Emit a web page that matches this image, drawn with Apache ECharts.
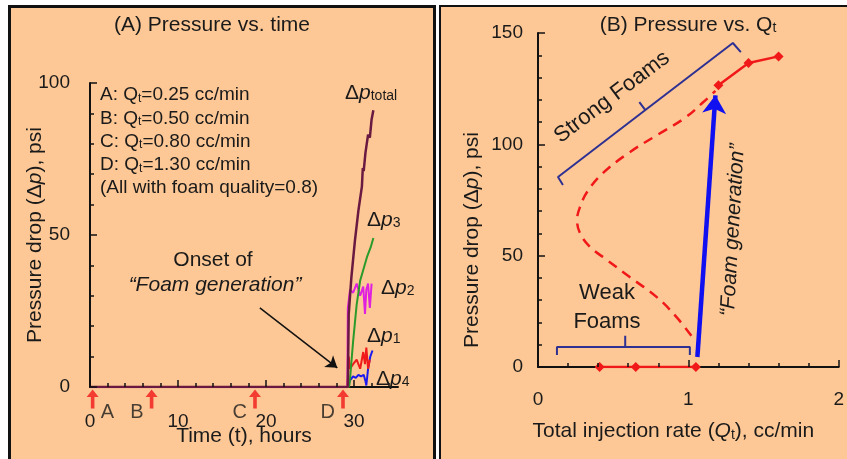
<!DOCTYPE html>
<html>
<head>
<meta charset="utf-8">
<script src="https://cdn.jsdelivr.net/npm/echarts@6/dist/echarts.min.js"></script>
<style>
  html, body { margin: 0; padding: 0; background: #fff; }
  .panel { position: absolute; top: 5px; height: 470px; background: #FDC896; box-sizing: border-box; }
  #panelA { left: 8px; width: 428px; border: 3px solid #111; }
  #panelB { left: 439px; width: 420px; border: 2.5px solid #111; }
  #chart { position: absolute; left: 0; top: 0; width: 847px; height: 459px; }
</style>
</head>
<body>
<div class="panel" id="panelA"></div>
<div class="panel" id="panelB"></div>
<div id="chart"></div>
<script>
// ---- (A) pressure drop vs time: [hours, psi] ----
const dpTotal = [[0,0],[29.3,0],[29.4,24],[29.7,36],[30.1,48],[30.5,58],[30.9,66],[31.0,72],[31.1,71],[31.3,77],[31.6,83],[31.8,82],[32.0,88],[32.2,91]];
const dp3 = [[0,0],[29.4,0],[29.5,1],[29.9,15],[30.3,27],[30.7,35],[31.1,39],[31.5,43],[31.9,46],[32.2,49]];
const dp2 = [[0,0],[29.25,0],[29.3,26],[29.55,32],[29.9,31],[30.3,34],[30.7,30],[31.05,33],[31.25,24],[31.4,32],[31.6,34],[31.8,26],[32.0,34]];
const dp1 = [[0,0],[29.25,0],[29.3,3],[29.4,10],[29.55,6],[29.9,7.5],[30.3,9],[30.7,6],[31.05,11.5],[31.25,7.5],[31.4,13],[31.6,6],[31.8,9]];
const dp4 = [[0,0],[29.3,0],[29.5,2],[29.9,3.5],[30.2,3],[30.5,4],[30.8,3.5],[31.1,4],[31.3,2],[31.4,0.5],[31.6,6],[31.85,10],[32.1,12]];

// injection rate steps
const stepNames = ['A', 'B', 'C', 'D'];
const stepTimes = [0.3, 7.0, 18.75, 28.75];
const stepRates = ['0.25', '0.50', '0.80', '1.30'];
const onsetArrow = [[19.3, 26], [28.1, 6.3]];

// tick marks of panel A
const timeMajor = [0, 10, 20, 30];
const timeMinor = [2, 4, 6, 8, 12, 14, 16, 18, 22, 24, 26, 28, 32, 34];
const dpMajorA = [0, 50, 100];
const dpMinorA = [10, 20, 30, 40, 60, 70, 80, 90];

// ---- (B) pressure drop vs total rate: [cc/min, psi] ----
const weakQ = [0.41, 0.65, 1.05];
const weakDp = [0, 0, 0];
const strongQ = [1.2, 1.4, 1.6];
const strongDp = [126.5, 136.5, 139.5];
const sCurve = [[1.02,14],[0.92,22.5],[0.79,31.4],[0.61,40.4],[0.46,48],[0.345,54],[0.28,60],[0.26,66],[0.28,72],[0.33,79],[0.43,87],[0.6,96],[0.8,104.5],[0.98,112],[1.1,119],[1.18,124]];
const generationArrow = [[1.06, 4.5], [1.18, 122]];
const weakBracket = [[0.126,5.4],[0.126,9],[0.58,9],[0.58,14],[0.58,9],[1.01,9],[1.01,5.4]];
const strongBracket = [[0.166,81.7],[0.133,85.3],[0.714,115.4],[0.674,119],[0.714,115.4],[1.296,145.5],[1.349,141.4]];

// tick marks of panel B
const rateMajor = [0, 1, 2];
const rateMinor = [0.2, 0.4, 0.6, 0.8, 1.2, 1.4, 1.6, 1.8];
const dpMajorB = [0, 50, 100, 150];
const dpMinorB = [10, 20, 30, 40, 60, 70, 80, 90, 110, 120, 130, 140];

const F = '"Liberation Sans", Arial, sans-serif';
const ink = '#1a1a1a';

const gridA = { left: 90, top: 83, width: 308, height: 304 };
const gridB = { left: 538, top: 33, width: 301, height: 334 };

// rich styles for zrender graphic text
function zrRich(size) {
  return {
    i: { fontFamily: F, fontSize: size, fontStyle: 'italic', fill: ink },
    s: { fontFamily: F, fontSize: Math.round(size * 0.65), fill: ink, verticalAlign: 'bottom' }
  };
}
// rich styles for echarts text options
function ecRich(size) {
  return {
    i: { fontFamily: F, fontSize: size, fontStyle: 'italic', color: ink },
    s: { fontFamily: F, fontSize: Math.round(size * 0.65), color: ink, verticalAlign: 'bottom' }
  };
}
function txt(x, y, text, size, extra) {
  return Object.assign({
    type: 'text', x: x, y: y, z: 50,
    style: Object.assign({
      text: text, fontFamily: F, fontSize: size, fill: ink,
      align: 'left', verticalAlign: 'middle', rich: zrRich(size)
    }, (extra && extra.style) || {})
  }, extra ? { rotation: extra.rotation || 0 } : {});
}

function axis(grid, min, max, interval, o) {
  return Object.assign({
    gridIndex: grid, type: 'value', min: min, max: max, interval: interval,
    axisLine: { show: true, onZero: false, lineStyle: { color: '#111', width: 2 } },
    axisTick: { show: false },
    minorTick: { show: false },
    splitLine: { show: false },
    nameMoveOverlap: false,
    axisLabel: { color: ink, fontFamily: F, fontSize: 19 }
  }, o);
}

// inward tick marks as mark lines, lengths given in pixels and turned into axis units
function tickLines(xMaj, xMin, yMaj, yMin, xRange, yRange, grid) {
  const kx = xRange / grid.width, ky = yRange / grid.height;
  const out = [];
  xMaj.forEach(function (v) { out.push([{ coord: [v, 0] }, { coord: [v, 7 * ky] }]); });
  xMin.forEach(function (v) { out.push([{ coord: [v, 0] }, { coord: [v, 4 * ky] }]); });
  yMaj.forEach(function (v) { out.push([{ coord: [0, v] }, { coord: [7 * kx, v] }]); });
  yMin.forEach(function (v) { out.push([{ coord: [0, v] }, { coord: [4 * kx, v] }]); });
  return {
    silent: true, symbol: 'none', label: { show: false },
    lineStyle: { color: '#111', width: 1.5, type: 'solid' },
    data: out
  };
}

const chart = echarts.init(document.getElementById('chart'));

const graphic = [
  txt(212, 25, '(A) Pressure vs. time', 21, { style: { align: 'center' } }),
  txt(688, 25, '(B) Pressure vs. Q{s|t}', 21, { style: { align: 'center' } }),
  txt(213, 260, 'Onset of', 21, { style: { align: 'center' } }),
  txt(215, 285, '\u201cFoam generation\u201d', 21, { style: { align: 'center', fontStyle: 'italic' } }),
  txt(345, 93, '\u0394{i|p}{s|total}', 21),
  txt(367, 220, '\u0394{i|p}{s|3}', 21),
  txt(381, 288, '\u0394{i|p}{s|2}', 21),
  txt(367, 336, '\u0394{i|p}{s|1}', 21),
  txt(376, 379, '\u0394{i|p}{s|4}', 21),
  txt(472, 240, 'Pressure drop (\u0394{i|p}), psi', 21, { rotation: Math.PI / 2, style: { align: 'center' } }),
  txt(733, 230, '\u201cFoam generation\u201d', 21, { rotation: 86.7 * Math.PI / 180, style: { align: 'center', fontStyle: 'italic' } }),
  txt(612, 97, 'Strong Foams', 22, { rotation: 37 * Math.PI / 180, style: { align: 'center' } }),
  txt(607, 293, 'Weak', 22, { style: { align: 'center' } }),
  txt(607, 322, 'Foams', 22, { style: { align: 'center' } })
];
stepNames.forEach(function (n, k) {
  graphic.push(txt(100, 95 + k * 23.3, n + ': Q{s|t}=' + stepRates[k] + ' cc/min', 19));
});
graphic.push(txt(100, 95 + 4 * 23.3, '(All with foam quality=0.8)', 19));

const lineSeries = (name, data, color, width) => ({
  name: name, type: 'line', xAxisIndex: 0, yAxisIndex: 0, data: data,
  showSymbol: false, symbol: 'none', lineStyle: { color: color, width: width || 2 }, z: 3
});

chart.setOption({
  backgroundColor: 'transparent',
  animation: false,
  grid: [gridA, gridB],
  xAxis: [
    axis(0, 0, 35, 10, {
      axisLabel: { color: ink, fontFamily: F, fontSize: 19, margin: 25, showMaxLabel: false },
      name: 'Time (t), hours', nameLocation: 'middle', nameGap: 39,
      nameTextStyle: { color: ink, fontFamily: F, fontSize: 21 }
    }),
    axis(1, 0, 2, 1, {
      axisLabel: { color: ink, fontFamily: F, fontSize: 19, margin: 23 },
      name: 'Total injection rate ({i|Q}{s|t}), cc/min', nameLocation: 'middle', nameGap: 54,
      nameTextStyle: { color: ink, fontFamily: F, fontSize: 21, padding: [0, 30, 0, 0], rich: ecRich(21) }
    })
  ],
  yAxis: [
    axis(0, 0, 100, 50, {
      axisLabel: { color: ink, fontFamily: F, fontSize: 19, margin: 20 },
      name: 'Pressure drop (\u0394{i|p}), psi', nameLocation: 'middle', nameGap: 44, nameRotate: 90,
      nameTextStyle: { color: ink, fontFamily: F, fontSize: 21, rich: ecRich(21) }
    }),
    axis(1, 0, 150, 50, {
      axisLabel: { color: ink, fontFamily: F, fontSize: 19, margin: 15 }
    })
  ],
  series: [
    lineSeries('dp4', dp4, '#1a1af0'),
    lineSeries('dp1', dp1, '#f01a1a'),
    lineSeries('dp2', dp2, '#e020e0'),
    Object.assign(lineSeries('dp3', dp3, '#2a9a2a'), {
      markLine: tickLines(timeMajor, timeMinor, dpMajorA, dpMinorA, 35, 100, gridA)
    }),
    Object.assign(lineSeries('total', dpTotal, '#6a1a40', 2.5), {
      markLine: {
        silent: true, symbol: ['none', 'arrow'], symbolSize: 11,
        label: { show: false }, lineStyle: { color: '#111', width: 1.5, type: 'solid' },
        data: [[{ coord: onsetArrow[0] }, { coord: onsetArrow[1] }]]
      }
    }),
    {
      name: 'steps', type: 'scatter', xAxisIndex: 0, yAxisIndex: 0, clip: false, z: 5,
      symbol: 'path://M5,0L10,7L6.5,7L6.5,18L3.5,18L3.5,7L0,7Z', symbolSize: [12, 19], symbolOffset: [0, 12],
      itemStyle: { color: '#f01818' },
      data: stepTimes.map(function (t, k) {
        return {
          value: [t, 0],
          label: {
            show: true, formatter: stepNames[k], position: k === 0 ? 'right' : 'left', distance: 2,
            offset: [0, 13], color: ink, fontFamily: F, fontSize: 20
          }
        };
      })
    },
    {
      name: 'model', type: 'line', xAxisIndex: 1, yAxisIndex: 1, data: sCurve, smooth: 0.4,
      showSymbol: false, symbol: 'none', lineStyle: { color: '#f01818', width: 2.5, type: [10, 7] },
      markLine: {
        silent: true, symbol: ['none', 'arrow'], symbolSize: 18,
        label: { show: false }, lineStyle: { color: '#1010f0', width: 4.5, type: 'solid' },
        data: [[{ coord: generationArrow[0] }, { coord: generationArrow[1] }]]
      }
    },
    {
      name: 'weak', type: 'line', xAxisIndex: 1, yAxisIndex: 1, z: 4,
      data: weakQ.map(function (q, k) { return [q, weakDp[k]]; }),
      symbol: 'diamond', symbolSize: 10, itemStyle: { color: '#f01818' },
      lineStyle: { color: '#f01818', width: 2.5 },
      markLine: tickLines(rateMajor, rateMinor, dpMajorB, dpMinorB, 2, 150, gridB)
    },
    {
      name: 'strong', type: 'line', xAxisIndex: 1, yAxisIndex: 1, z: 4,
      data: strongQ.map(function (q, k) { return [q, strongDp[k]]; }),
      symbol: 'diamond', symbolSize: 10, itemStyle: { color: '#f01818' },
      lineStyle: { color: '#f01818', width: 2.5 }
    },
    {
      name: 'weakBracket', type: 'line', xAxisIndex: 1, yAxisIndex: 1, data: weakBracket, clip: false,
      showSymbol: false, symbol: 'none', lineStyle: { color: '#2e3192', width: 2 }
    },
    {
      name: 'strongBracket', type: 'line', xAxisIndex: 1, yAxisIndex: 1, data: strongBracket, clip: false,
      showSymbol: false, symbol: 'none', lineStyle: { color: '#2e3192', width: 2 }
    }
  ],
  graphic: graphic
});
</script>
</body>
</html>
